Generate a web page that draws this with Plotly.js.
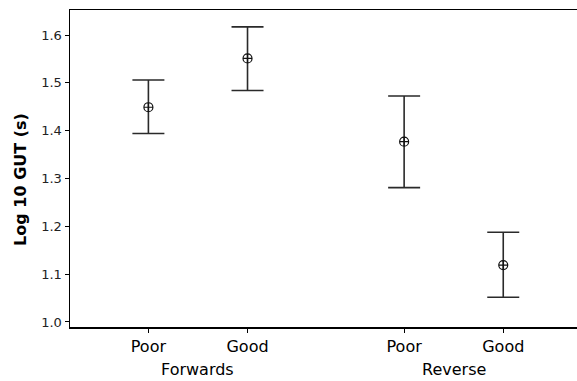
<!DOCTYPE html>
<html>
<head>
<meta charset="utf-8">
<script src="https://cdn.plot.ly/plotly-3.0.1.min.js"></script>
<style>html,body{margin:0;padding:0;background:#fff;}#chart{width:577px;height:381px;}</style>
</head>
<body>
<div id="chart"></div>
<script>
const categories = ["Poor", "Good", "Poor", "Good"];
const groups = ["Forwards", "Reverse"];
const positions = [1, 2, 3.58, 4.58];
const means = [1.449, 1.551, 1.377, 1.119];
const upper = [1.506, 1.617, 1.4725, 1.1875];
const lower = [1.394, 1.484, 1.281, 1.0516];
const yTicks = [1.0, 1.1, 1.2, 1.3, 1.4, 1.5, 1.6];

const plus = upper.map((u, i) => u - means[i]);
const minus = means.map((m, i) => m - lower[i]);

const trace = {
  x: positions,
  y: means,
  type: "scatter",
  mode: "markers",
  marker: {symbol: "circle-cross-open", size: 9, color: "#111", line: {width: 1.2, color: "#111"}},
  error_y: {type: "data", symmetric: false, array: plus, arrayminus: minus,
            color: "#2a2a2a", thickness: 1.6, width: 16},
  hoverinfo: "none"
};

const font = "DejaVu Sans, Verdana, sans-serif";
const layout = {
  width: 577, height: 381,
  margin: {l: 70, r: 0, t: 10, b: 54},
  paper_bgcolor: "#fff", plot_bgcolor: "#fff",
  showlegend: false,
  font: {family: font, color: "#000"},
  xaxis: {
    range: [0.209, 5.324], tickvals: positions, ticktext: categories,
    showline: true, linecolor: "#000", linewidth: 1.5, mirror: true,
    ticks: "outside", ticklen: 4, tickcolor: "#000", tickwidth: 1,
    showgrid: false, zeroline: false, tickfont: {size: 16, family: font}
  },
  yaxis: {
    range: [0.9895, 1.6523], tickvals: yTicks, ticktext: yTicks.map(v => v.toFixed(1)),
    showline: true, linecolor: "#000", linewidth: 1.5,
    ticks: "outside", ticklen: 4, tickcolor: "#000", tickwidth: 1,
    showgrid: false, zeroline: false, tickfont: {size: 13, family: font, color: "#222"}
  },
  annotations: [
    {text: groups[0], x: (positions[0] + positions[1]) / 2, xref: "x", y: -0.135, yref: "paper",
     yanchor: "middle", showarrow: false, font: {size: 16, family: font}},
    {text: groups[1], x: (positions[2] + positions[3]) / 2, xref: "x", y: -0.135, yref: "paper",
     yanchor: "middle", showarrow: false, font: {size: 16, family: font}},
    {text: "<b>Log 10 GUT (s)</b>", textangle: -90, x: -0.098, xref: "paper", xanchor: "center",
     y: 0.465, yref: "paper", yanchor: "middle", showarrow: false, font: {size: 16, family: font}}
  ]
};

Plotly.newPlot("chart", [trace], layout, {displayModeBar: false, staticPlot: true});
</script>
</body>
</html>
